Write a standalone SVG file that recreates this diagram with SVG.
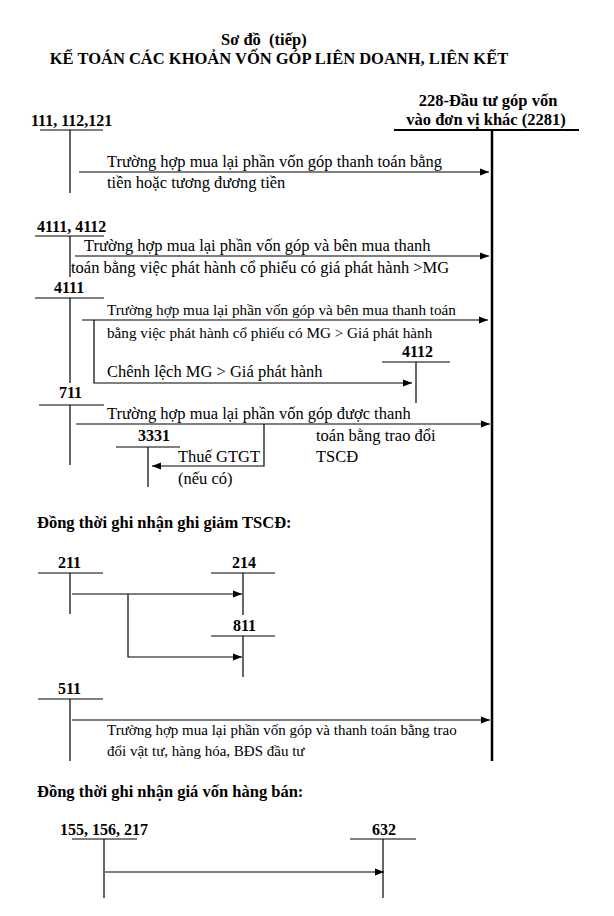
<svg xmlns="http://www.w3.org/2000/svg" width="614" height="916" viewBox="0 0 614 916">
<defs>
<marker id="ah" viewBox="0 0 10 10" refX="10" refY="5" markerWidth="9" markerHeight="9" markerUnits="userSpaceOnUse" orient="auto">
<path d="M0,1 L10,5 L0,9 Z" fill="#000"/>
</marker>
<style>
text{font-family:"Liberation Serif","Times New Roman","DejaVu Serif",serif;fill:#000}
.t{font-size:16.5px;font-weight:bold}
.acc{font-size:16px;font-weight:bold}
.b{font-size:16.5px}
.s{font-size:15.2px}
.m{font-size:15px}
.h{font-size:16.5px;font-weight:bold}
line,polyline{stroke:#000;stroke-width:1.2;fill:none}
.arr{marker-end:url(#ah)}
.thick{stroke-width:2.5}
</style>
</defs>
<rect width="614" height="916" fill="#fff"/>
<g id="title">
<text class="t" x="221" y="45" xml:space="preserve">Sơ đồ  (tiếp)</text>
<text class="t" x="279" y="64" text-anchor="middle">KẾ TOÁN CÁC KHOẢN VỐN GÓP LIÊN DOANH, LIÊN KẾT</text>
</g>
<g id="n228">
<text class="t" x="488" y="106" text-anchor="middle">228-Đầu tư góp vốn</text>
<text class="t" x="486" y="125" text-anchor="middle">vào đơn vị khác (2281)</text>
<line x1="394" y1="130" x2="579" y2="130" style="stroke-width:2"/>
<line class="thick" x1="492" y1="130" x2="492" y2="761"/>
</g>
<g id="n111">
<text class="acc" x="31" y="126">111, 112,121</text>
<line x1="40" y1="130" x2="103" y2="130"/>
<line x1="70" y1="130" x2="70" y2="193"/>
</g>
<g id="n4111_4112">
<text class="acc" x="37" y="232">4111, 4112</text>
<line x1="35" y1="236" x2="104" y2="236"/>
<line x1="70" y1="236" x2="70" y2="277"/>
</g>
<g id="n4111">
<text class="acc" x="54" y="293">4111</text>
<line x1="35" y1="298" x2="104" y2="298"/>
<line x1="70" y1="298" x2="70" y2="383"/>
</g>
<g id="n4112">
<text class="acc" x="402" y="357">4112</text>
<line x1="382" y1="362" x2="450" y2="362"/>
<line x1="416" y1="362" x2="416" y2="403"/>
</g>
<g id="n711">
<text class="acc" x="59" y="398">711</text>
<line x1="39" y1="405" x2="104" y2="405"/>
<line x1="70" y1="405" x2="70" y2="465"/>
</g>
<g id="n3331">
<text class="acc" x="138" y="441">3331</text>
<line x1="116" y1="447" x2="180" y2="447"/>
<line x1="148" y1="447" x2="148" y2="487"/>
</g>
<g id="heading1">
<text class="h" x="37" y="528">Đồng thời ghi nhận ghi giảm TSCĐ:</text>
</g>
<g id="n211">
<text class="acc" x="58" y="568">211</text>
<line x1="38" y1="573" x2="103" y2="573"/>
<line x1="70" y1="573" x2="70" y2="614"/>
</g>
<g id="n214">
<text class="acc" x="232" y="568">214</text>
<line x1="211" y1="573" x2="275" y2="573"/>
<line x1="243" y1="573" x2="243" y2="615"/>
</g>
<g id="n811">
<text class="acc" x="233" y="631">811</text>
<line x1="211" y1="636" x2="275" y2="636"/>
<line x1="243" y1="636" x2="243" y2="677"/>
</g>
<g id="n511">
<text class="acc" x="58" y="694">511</text>
<line x1="38" y1="699" x2="103" y2="699"/>
<line x1="70" y1="699" x2="70" y2="761"/>
</g>
<g id="heading2">
<text class="h" x="37" y="797">Đồng thời ghi nhận giá vốn hàng bán:</text>
</g>
<g id="n155">
<text class="acc" x="60" y="835">155, 156, 217</text>
<line x1="72" y1="839" x2="137" y2="839"/>
<line x1="104" y1="839" x2="104" y2="898"/>
</g>
<g id="n632">
<text class="acc" x="372" y="835">632</text>
<line x1="350" y1="839" x2="416" y2="839"/>
<line x1="383" y1="839" x2="383" y2="898"/>
</g>
<g id="connectors">
<line class="arr" x1="79" y1="172" x2="489" y2="172"/>
<text class="b" x="107" y="167">Trường hợp mua lại phần vốn góp thanh toán bằng</text>
<text class="b" x="107" y="188">tiền hoặc tương đương tiền</text>

<line class="arr" x1="75" y1="256" x2="489" y2="256"/>
<text class="b" x="84" y="251">Trường hợp mua lại phần vốn góp và bên mua thanh</text>
<text class="b" x="71" y="273">toán bằng việc phát hành cổ phiếu có giá phát hành &gt;MG</text>

<line class="arr" x1="82" y1="320" x2="488" y2="320"/>
<polyline class="arr" points="94,320 94,383 412,383"/>
<text class="s" x="107" y="315">Trường hợp mua lại phần vốn góp và bên mua thanh toán</text>
<text class="s" x="107" y="338">bằng việc phát hành cổ phiếu có MG &gt; Giá phát hành</text>
<text class="b" x="107" y="377">Chênh lệch MG &gt; Giá phát hành</text>

<line class="arr" x1="76" y1="424" x2="490" y2="424"/>
<polyline class="arr" points="264,424 264,466 152,466"/>
<text class="b" x="107" y="419">Trường hợp mua lại phần vốn góp được thanh</text>
<text class="b" x="316" y="441">toán bằng trao đổi</text>
<text class="b" x="316" y="462">TSCĐ</text>
<text class="b" x="178" y="462">Thuế GTGT</text>
<text class="b" x="178" y="484">(nếu có)</text>

<line class="arr" x1="72" y1="594" x2="242" y2="594"/>
<polyline class="arr" points="128,594 128,657 242,657"/>

<line class="arr" x1="72" y1="720" x2="490" y2="720"/>
<text class="m" x="107" y="735">Trường hợp mua lại phần vốn góp và thanh toán bằng trao</text>
<text class="m" x="107" y="756">đổi vật tư, hàng hóa, BĐS đầu tư</text>

<line class="arr" x1="105" y1="872" x2="384" y2="872"/>
</g>
</svg>
